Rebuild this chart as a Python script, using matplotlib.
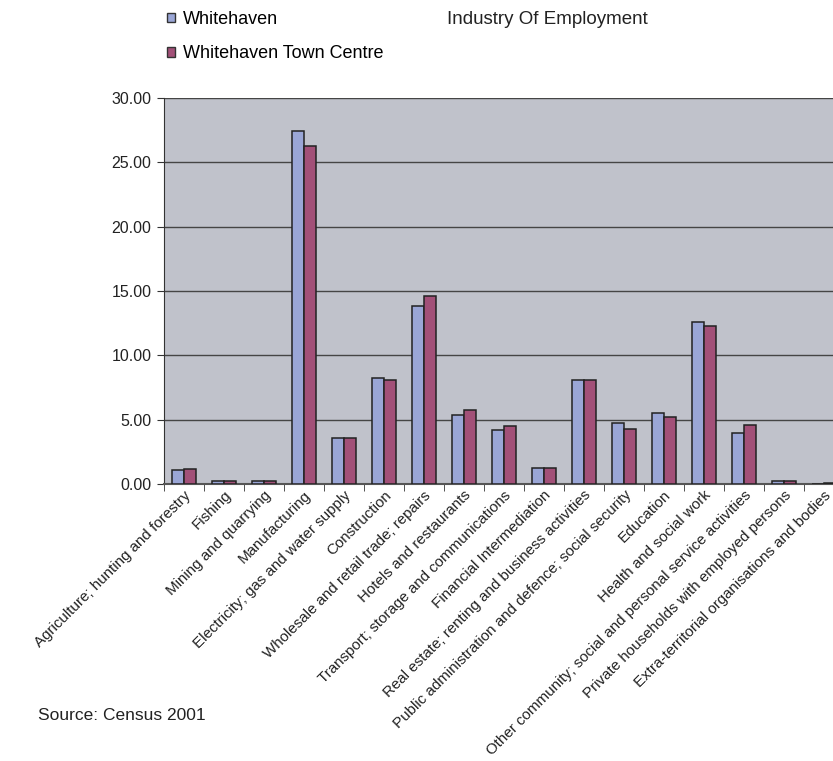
import matplotlib
matplotlib.use("Agg")
import matplotlib.pyplot as plt
from matplotlib.patches import Patch
import numpy as np

plt.rcParams['font.family'] = ['Liberation Sans', 'DejaVu Sans']

categories = [
    "Agriculture; hunting and forestry",
    "Fishing",
    "Mining and quarrying",
    "Manufacturing",
    "Electricity; gas and water supply",
    "Construction",
    "Wholesale and retail trade; repairs",
    "Hotels and restaurants",
    "Transport; storage and communications",
    "Financial Intermediation",
    "Real estate; renting and business activities",
    "Public administration and defence; social security",
    "Education",
    "Health and social work",
    "Other community; social and personal service activities",
    "Private households with employed persons",
    "Extra-territorial organisations and bodies",
]
whitehaven = [1.05, 0.2, 0.2, 27.4, 3.6, 8.2, 13.8, 5.35, 4.2, 1.25, 8.1, 4.75, 5.55, 12.6, 4.0, 0.2, 0.02]
town_centre = [1.15, 0.2, 0.2, 26.25, 3.6, 8.1, 14.6, 5.75, 4.5, 1.25, 8.1, 4.3, 5.2, 12.3, 4.6, 0.2, 0.05]
series_names = ["Whitehaven", "Whitehaven Town Centre"]
yticks = [0, 5, 10, 15, 20, 25, 30]

W, H = 833, 761
fig = plt.figure(figsize=(W / 100, H / 100), dpi=100)
fig.patch.set_facecolor("white")

left, right, top, bottom = 164, 844, 98, 484
ax = fig.add_axes([left / W, (H - bottom) / H, (right - left) / W, (bottom - top) / H])
ax.set_facecolor("#c0c2cb")

c_blue = "#9aa6d6"
c_red = "#a25078"
x = np.arange(len(categories))
bw = 0.29
ax.bar(x - bw / 2, whitehaven, bw, color=c_blue, edgecolor="#222222", linewidth=1.1, zorder=3)
ax.bar(x + bw / 2, town_centre, bw, color=c_red, edgecolor="#222222", linewidth=1.1, zorder=3)

ax.set_xlim(-0.5, len(categories) - 0.5)
ax.set_ylim(0, 30)
ax.set_yticks(yticks)
ax.set_yticklabels([f"{v:.2f}" for v in yticks], fontsize=11.5, color="#222222")
ax.yaxis.grid(True, color="#454545", linewidth=1.0, zorder=1)
ax.set_axisbelow(True)

ax.set_xticks(x)
ax.set_xticklabels(categories, rotation=45, ha="right", rotation_mode="anchor",
                   fontsize=10.9, color="#222222")
ax.tick_params(axis="x", which="major", length=0, pad=3)
ax.set_xticks(np.arange(-0.5, len(categories), 1), minor=True)
ax.tick_params(axis="x", which="minor", length=5, direction="out", color="#333333")
ax.tick_params(axis="y", length=5, direction="out", color="#333333", pad=4)

for s in ["top", "right"]:
    ax.spines[s].set_visible(False)
ax.spines["left"].set_color("#333333")
ax.spines["bottom"].set_color("#555555")
ax.spines["bottom"].set_linewidth(1.5)

handles = [Patch(facecolor=c_blue, edgecolor="#333333", linewidth=1.0),
           Patch(facecolor=c_red, edgecolor="#333333", linewidth=1.0)]
fig.legend(handles, series_names, loc="upper left", bbox_to_anchor=(160 / W, 1 - 4 / H),
           frameon=False, fontsize=13, handlelength=0.42, handleheight=0.42,
           handletextpad=0.45, labelspacing=0.95, borderaxespad=0)

fig.text(447 / W, 1 - 20 / H, "Industry Of Employment", fontsize=13.5, color="#222222",
         ha="left", va="center")
fig.text(38 / W, 1 - 716 / H, "Source: Census 2001", fontsize=12.5, color="#222222",
         ha="left", va="center")

fig.savefig("out.png", dpi=100)
